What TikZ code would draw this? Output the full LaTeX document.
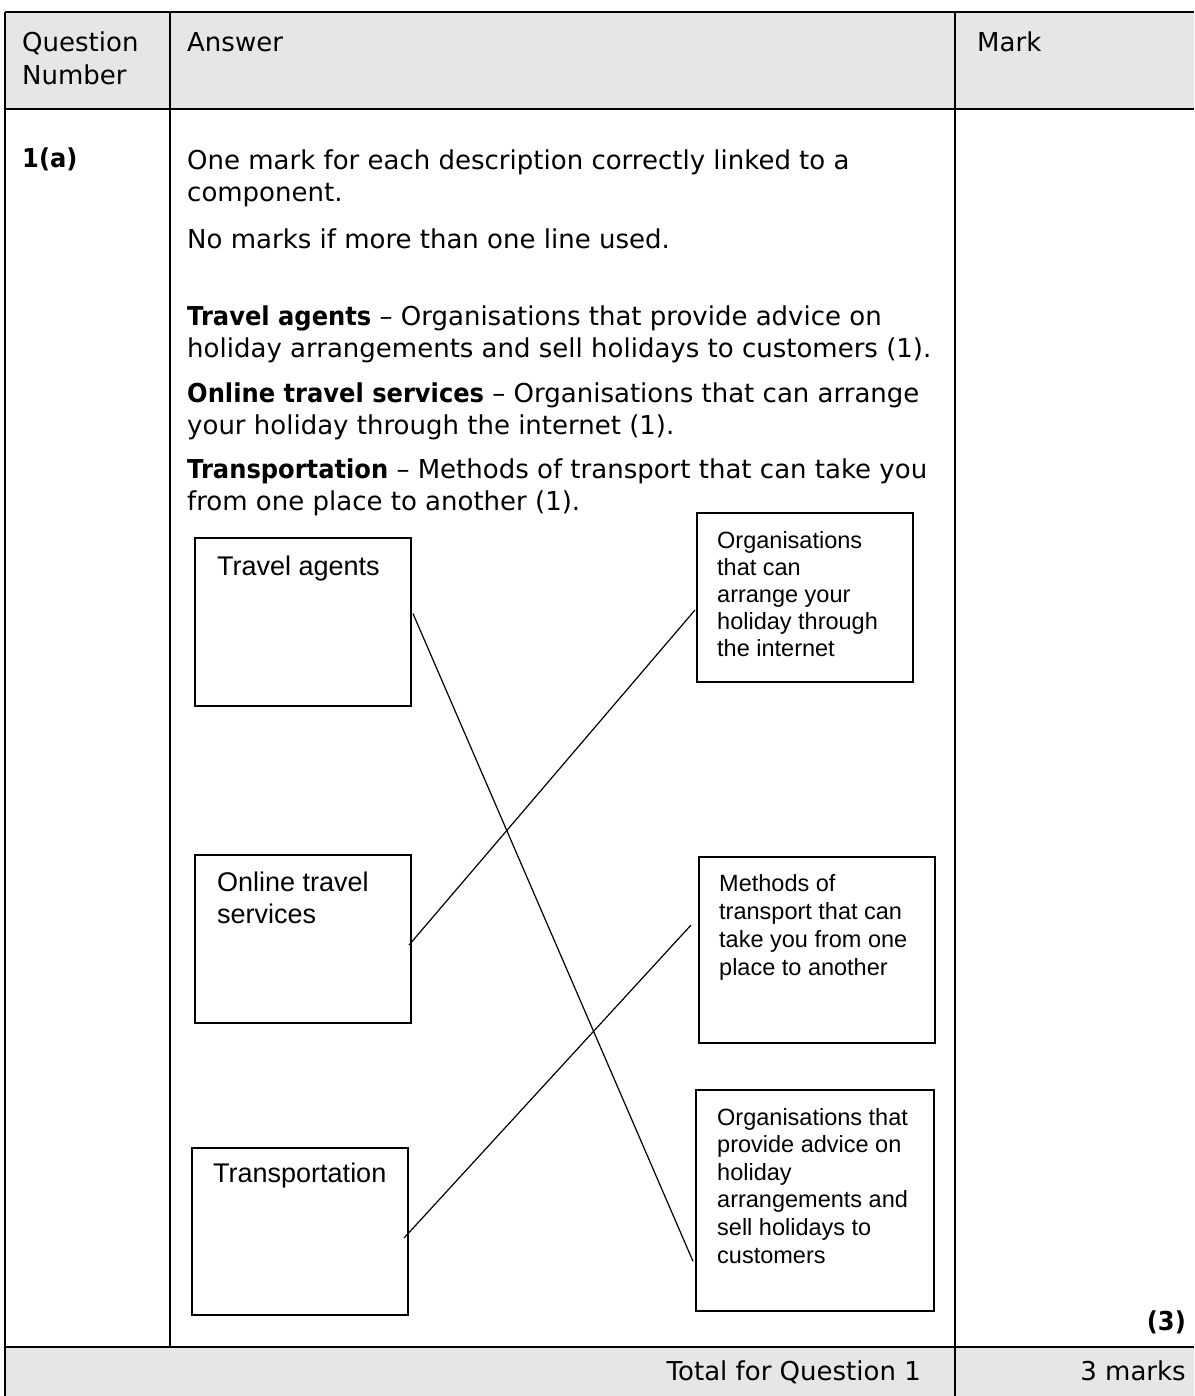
\documentclass[tikz,border=0pt]{standalone}
\usepackage{fontspec}
\setmainfont{DejaVu Sans}[BoldFeatures={FakeStretch=0.93}]
\newfontfamily\arialfont{Liberation Sans}
\usetikzlibrary{calc}
\definecolor{hdrgray}{HTML}{E6E6E6}
\newcommand\mlines[2]{\vtop{\baselineskip=#1\relax\lineskiplimit=-100pt\lineskip=0pt\halign{##\hfil\cr#2\crcr}}}
\begin{document}
\begin{tikzpicture}[x=1pt,y=-1pt,
  tline/.style={line width=2.4pt},
  mbox/.style={draw, line width=1.6pt, inner sep=0pt, outer sep=0pt},
  conn/.style={line width=1.2pt},
  mtxt/.style={anchor=base west, inner sep=0pt, font=\fontsize{26}{34}\selectfont},
  ltxt/.style={anchor=base west, inner sep=0pt, font=\arialfont\fontsize{27}{32}\selectfont},
  rtxt/.style={anchor=base west, inner sep=0pt, font=\arialfont\fontsize{23.5}{27.2}\selectfont}]
\useasboundingbox (0,0) rectangle (1194,1396);
% shaded rows
\fill[hdrgray] (5,12) rectangle (1194,109);
\fill[hdrgray] (5,1347) rectangle (1194,1396);
% table rules
\draw[tline] (5,12) -- (1194,12);
\draw[tline] (5,109) -- (1194,109);
\draw[tline] (5,1347) -- (1194,1347);
\draw[tline] (5,12) -- (5,1396);
\draw[tline] (170,12) -- (170,1347);
\draw[tline] (955,12) -- (955,1396);
% header
\node[mtxt] (hq) at (22,52) {\mlines{33pt}{Question\cr Number}};
\node[mtxt] (ha) at (187,52) {Answer};
\node[mtxt] (hm) at (977,52) {Mark};
% body text
\node[mtxt] (qn) at (22,168) {\textbf{1(a)}};
\node[mtxt] (p1) at (187,170) {\mlines{32pt}{One mark for each description correctly linked to a\cr component.}};
\node[mtxt] (p2) at (187,249) {No marks if more than one line used.};
\node[mtxt] (p3) at (187,326) {\mlines{32pt}{\textbf{Travel agents} – Organisations that provide advice on\cr holiday arrangements and sell holidays to customers (1).}};
\node[mtxt] (p4) at (187,402) {\mlines{32pt}{\textbf{Online travel services} – Organisations that can arrange\cr your holiday through the internet (1).}};
\node[mtxt] (p5) at (187,478) {\mlines{32pt}{\textbf{Transportation} – Methods of transport that can take you\cr from one place to another (1).}};
\node[mtxt, anchor=base east] (mk) at (1186,1330) {\textbf{(3)}};
\node[mtxt, anchor=base east] (tot) at (921,1380) {Total for Question 1};
\node[mtxt, anchor=base east] (tm) at (1186,1380) {3 marks};
% left boxes
\node[mbox, minimum width=216pt, minimum height=168pt] (ta) at (303,622) {};
\node[mbox, minimum width=216pt, minimum height=168pt] (ots) at (303,939) {};
\node[mbox, minimum width=216pt, minimum height=167pt] (tr) at (300,1231.5) {};
\node[ltxt] (tal) at (217,575) {Travel agents};
\node[ltxt] (otl) at (217,891) {\mlines{32pt}{Online travel\cr services}};
\node[ltxt] (trl) at (213,1182) {Transportation};
% right boxes
\node[mbox, minimum width=216pt, minimum height=169pt] (ri) at (805,597.5) {};
\node[mbox, minimum width=236pt, minimum height=186pt] (rm) at (817,950) {};
\node[mbox, minimum width=238pt, minimum height=221pt] (ra) at (815,1200.5) {};
\node[rtxt] (ril) at (717,548) {\mlines{27pt}{Organisations\cr that can\cr arrange your\cr holiday through\cr the internet}};
\node[rtxt] (rml) at (719,891) {\mlines{28pt}{Methods of\cr transport that can\cr take you from one\cr place to another}};
\node[rtxt] (ral) at (717,1125) {\mlines{27.6pt}{Organisations that\cr provide advice on\cr holiday\cr arrangements and\cr sell holidays to\cr customers}};
% connectors
\draw[conn] ($(ta.north east)!0.45!(ta.south east)+(2,0)$) -- ($(ra.north west)!0.775!(ra.south west)+(-3,0)$);
\draw[conn] ($(ots.north east)!0.536!(ots.south east)+(-2,0)$) -- ($(ri.north west)!0.574!(ri.south west)+(-2,0)$);
\draw[conn] ($(tr.north east)!0.539!(tr.south east)+(-4,0)$) -- ($(rm.north west)!0.366!(rm.south west)+(-8,0)$);
\end{tikzpicture}
\end{document}
